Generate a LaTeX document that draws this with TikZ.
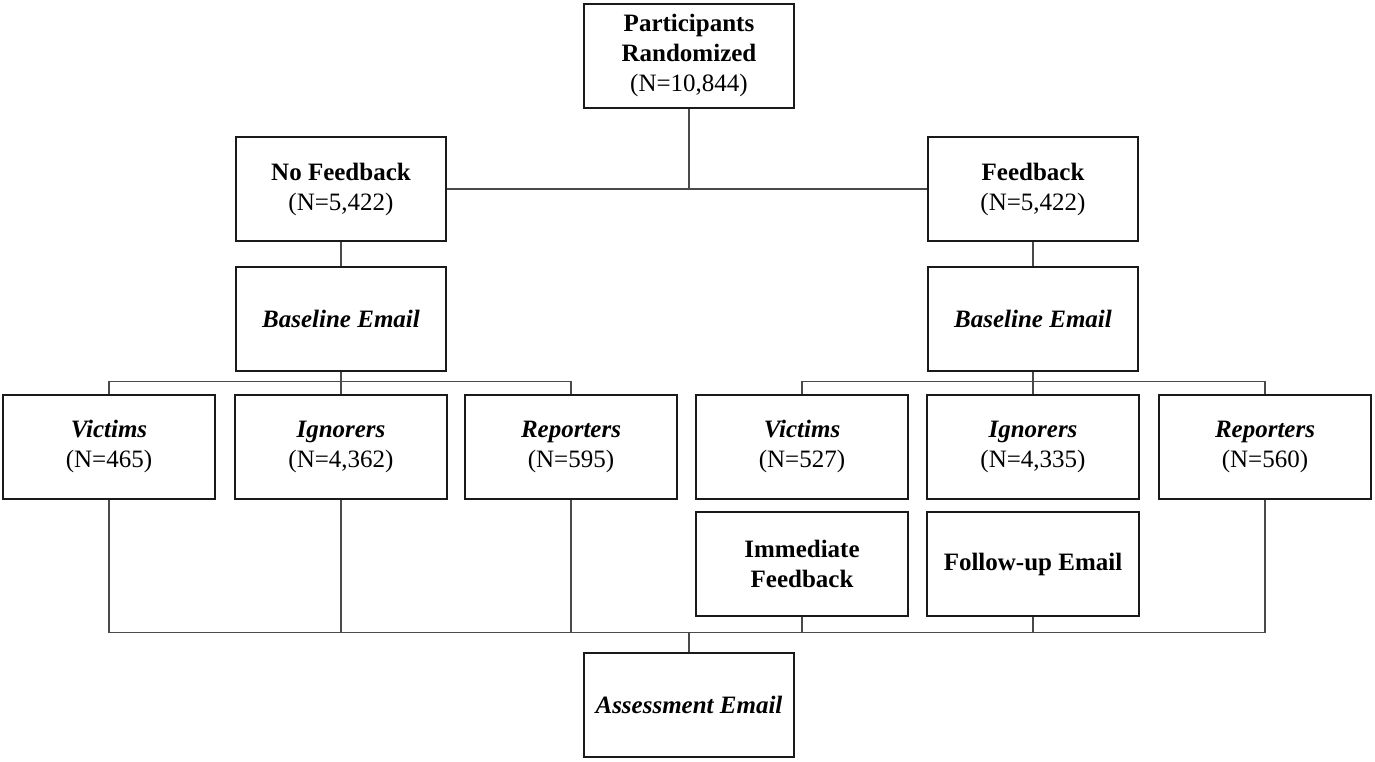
\documentclass[tikz,border=0pt]{standalone}
\usepackage{fontspec}
\setmainfont{Liberation Serif}
\definecolor{boxline}{HTML}{1A1A1A}
\definecolor{linkline}{HTML}{4A4A4A}
\tikzset{
  stage/.style ={draw=boxline, line width=1pt, fill=white, minimum width=105pt,
                 minimum height=52pt, inner sep=2pt, align=center,
                 font=\fontsize{12.5}{15}\selectfont},
  armbox/.style={stage, minimum width=106pt},
  link/.style  ={draw=linkline, line width=0.6pt},
}

\begin{document}
\begin{tikzpicture}[x=0.5pt, y=-0.5pt]
  \useasboundingbox (0,0) rectangle (1375,761);

  % randomisation
  \node[stage] (rand) at (689,55.5)
    {\textbf{Participants}\\\textbf{Randomized}\\(N=10,844)};
  \node[stage] (nofb) at (341,189) {\textbf{No Feedback}\\(N=5,422)};
  \node[stage] (fb)   at (1033,189) {\textbf{Feedback}\\(N=5,422)};
  \node[stage] (baseL) at (341,319) {\textbf{\textit{Baseline Email}}};
  \node[stage] (baseR) at (1033,319) {\textbf{\textit{Baseline Email}}};

  % responses to the baseline email
  \foreach \nm/\x/\who/\n in {vicL/109/Victims/465, {ignL/341/Ignorers/4,362},
      repL/571/Reporters/595, vicR/802/Victims/527,
      {ignR/1033/Ignorers/4,335}, repR/1265/Reporters/560} {
    \node[armbox] (\nm) at (\x,446.5) {\textbf{\textit{\who}}\\(N=\n)};
  }

  \node[armbox] (imm) at (802,564) {\textbf{Immediate}\\\textbf{Feedback}};
  \node[armbox] (fup) at (1033,564) {\textbf{Follow-up Email}};
  \node[stage] (assess) at (689,704.5) {\textbf{\textit{Assessment Email}}};

  \coordinate (splitL) at (341,381.5);
  \coordinate (splitR) at (1033,381.5);
  \coordinate (join) at (689,632.5);

  \draw[link] (rand.south) -- (rand.south |- nofb.east);
  \draw[link] (nofb.east) -- (fb.west);
  \draw[link] (nofb) -- (baseL);
  \draw[link] (fb) -- (baseR);

  \draw[link] (baseL) -- (ignL);
  \draw[link] (vicL.north) -- (vicL.north |- splitL) -- (repL.north |- splitL) -- (repL.north);
  \draw[link] (baseR) -- (ignR);
  \draw[link] (vicR.north) -- (vicR.north |- splitR) -- (repR.north |- splitR) -- (repR.north);

  \draw[link] (vicL.south) -- (vicL.south |- join) -- (repR.south |- join) -- (repR.south);
  \foreach \nm in {ignL,repL,imm,fup} {
    \draw[link] (\nm.south) -- (\nm.south |- join);
  }
  \draw[link] (join) -- (assess.north);
\end{tikzpicture}
\end{document}
